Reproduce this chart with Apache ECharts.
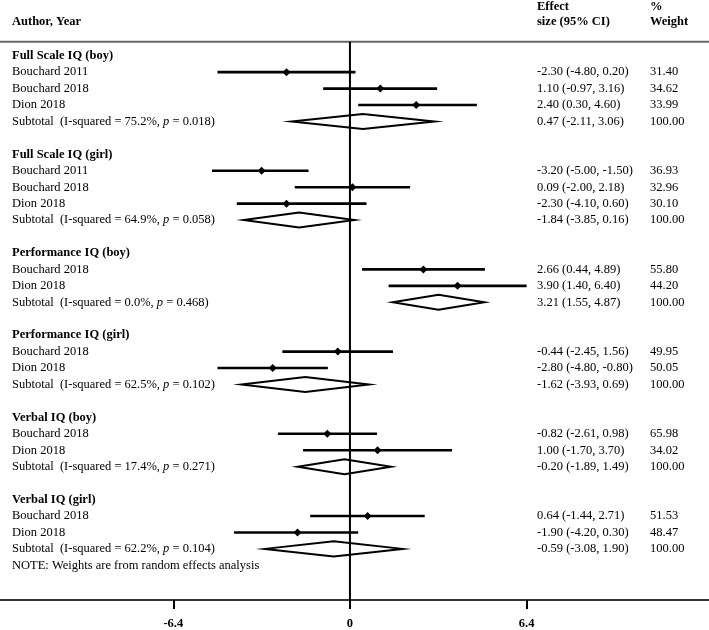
<!DOCTYPE html>
<html><head><meta charset="utf-8">
<script src="https://cdn.jsdelivr.net/npm/echarts@6/dist/echarts.min.js"></script>
<style>html,body{margin:0;padding:0;background:#fff}#c{width:709px;height:630px}</style>
</head><body><div id="c"></div>
<script>
// ---- data ----
const groups = ["Full Scale IQ (boy)", "Full Scale IQ (girl)", "Performance IQ (boy)", "Performance IQ (girl)", "Verbal IQ (boy)", "Verbal IQ (girl)"];
const studyNames = [
  ["Bouchard 2011", "Bouchard 2018", "Dion 2018"],
  ["Bouchard 2011", "Bouchard 2018", "Dion 2018"],
  ["Bouchard 2018", "Dion 2018"],
  ["Bouchard 2018", "Dion 2018"],
  ["Bouchard 2018", "Dion 2018"],
  ["Bouchard 2018", "Dion 2018"]
];
const studyEst = [[-2.30, 1.10, 2.40], [-3.20, 0.09, -2.30], [2.66, 3.90], [-0.44, -2.80], [-0.82, 1.00], [0.64, -1.90]];
const studyLo = [[-4.80, -0.97, 0.30], [-5.00, -2.00, -4.10], [0.44, 1.40], [-2.45, -4.80], [-2.61, -1.70], [-1.44, -4.20]];
const studyHi = [[0.20, 3.16, 4.60], [-1.50, 2.18, 0.60], [4.89, 6.40], [1.56, -0.80], [0.98, 3.70], [2.71, 0.30]];
const studyWeight = [[31.40, 34.62, 33.99], [36.93, 32.96, 30.10], [55.80, 44.20], [49.95, 50.05], [65.98, 34.02], [51.53, 48.47]];
const subEst = [0.47, -1.84, 3.21, -1.62, -0.20, -0.59];
const subLo = [-2.11, -3.85, 1.55, -3.93, -1.89, -3.08];
const subHi = [3.06, 0.16, 4.87, 0.69, 1.49, 1.90];
const subWeight = [100.00, 100.00, 100.00, 100.00, 100.00, 100.00];
const subI2 = ["75.2", "64.9", "0.0", "62.5", "17.4", "62.2"];
const subP = ["0.018", "0.058", "0.468", "0.102", "0.271", "0.104"];
const xTicks = [-6.4, 0, 6.4];
const noteText = "NOTE: Weights are from random effects analysis";

// ---- build rows ----
const FONT = "'Liberation Serif', 'Times New Roman', serif";
const FS = 12.5;
const fmt = v => v.toFixed(2);
const rows = [];
const ciData = [];
const diaData = [];
let r = 0;
groups.forEach((g, gi) => {
  rows.push({ row: r, label: g, bold: true });
  r++;
  studyNames[gi].forEach((n, si) => {
    const e = studyEst[gi][si], lo = studyLo[gi][si], hi = studyHi[gi][si];
    rows.push({ row: r, label: n, effect: fmt(e) + " (" + fmt(lo) + ", " + fmt(hi) + ")", weight: fmt(studyWeight[gi][si]) });
    ciData.push([lo, hi, e, r]);
    r++;
  });
  rows.push({ row: r, label: "Subtotal  (I-squared = " + subI2[gi] + "%, {i|p} = " + subP[gi] + ")",
    effect: fmt(subEst[gi]) + " (" + fmt(subLo[gi]) + ", " + fmt(subHi[gi]) + ")", weight: fmt(subWeight[gi]) });
  diaData.push([subLo[gi], subHi[gi], subEst[gi], r]);
  r += 2;
});
rows.push({ row: r - 1, label: noteText });

const X_MIN = -12.68, X_MAX = 13.01;
const Y_MIN = -3.39, Y_MAX = 33.11;
const SEP_ROW = -0.85;

const hdr = (text, x, y) => ({ type: 'text', x: x, y: y,
  style: { text: text, fontFamily: FONT, fontSize: FS, fontWeight: 'bold', fill: '#000', verticalAlign: 'middle', align: 'left' } });

const chart = echarts.init(document.getElementById('c'), null, { renderer: 'canvas' });
chart.setOption({
  animation: false,
  grid: { left: 0, right: 0, top: 0, bottom: 27 },
  xAxis: {
    type: 'value', min: X_MIN, max: X_MAX,
    splitLine: { show: false },
    axisLine: { show: true, onZero: false, lineStyle: { color: '#333', width: 2 } },
    axisTick: { show: true, customValues: xTicks, length: 9, lineStyle: { color: '#000', width: 2 } },
    axisLabel: { customValues: xTicks, margin: 17, color: '#000', fontFamily: FONT, fontSize: FS, fontWeight: 'bold',
      formatter: v => String(v) }
  },
  yAxis: { type: 'value', min: Y_MIN, max: Y_MAX, inverse: true, show: false },
  graphic: [
    hdr('Author, Year', 12, 22),
    hdr('Effect', 537, 7),
    hdr('size (95% CI)', 537, 22),
    hdr('%', 650, 7),
    hdr('Weight', 650, 22)
  ],
  series: [
    { // separator and zero line
      type: 'custom', silent: true,
      data: [[0, SEP_ROW]],
      renderItem: (params, api) => {
        const a = api.coord([X_MIN, SEP_ROW]), b = api.coord([X_MAX, SEP_ROW]);
        const z1 = api.coord([0, SEP_ROW]), z2 = api.coord([0, Y_MAX]);
        return { type: 'group', children: [
          { type: 'line', shape: { x1: a[0], y1: a[1], x2: b[0], y2: b[1] }, style: { stroke: '#666', lineWidth: 2 } },
          { type: 'line', shape: { x1: z1[0], y1: z1[1], x2: z2[0], y2: z2[1] }, style: { stroke: '#000', lineWidth: 2 } }
        ] };
      }
    },
    { // study CIs
      type: 'custom', silent: true,
      data: ciData,
      encode: { x: [0, 1, 2], y: 3 },
      renderItem: (params, api) => {
        const row = api.value(3);
        const p1 = api.coord([api.value(0), row]), p2 = api.coord([api.value(1), row]), pc = api.coord([api.value(2), row]);
        const s = 4;
        return { type: 'group', children: [
          { type: 'line', shape: { x1: p1[0], y1: p1[1], x2: p2[0], y2: p2[1] }, style: { stroke: '#000', lineWidth: 2.6 } },
          { type: 'polygon', shape: { points: [[pc[0] - s, pc[1]], [pc[0], pc[1] - s], [pc[0] + s, pc[1]], [pc[0], pc[1] + s]] }, style: { fill: '#000' } }
        ] };
      }
    },
    { // subtotal diamonds
      type: 'custom', silent: true,
      data: diaData,
      encode: { x: [0, 1, 2], y: 3 },
      renderItem: (params, api) => {
        const row = api.value(3);
        const p1 = api.coord([api.value(0), row]), p2 = api.coord([api.value(1), row]), pc = api.coord([api.value(2), row]);
        const h = 7.5;
        return { type: 'polygon', shape: { points: [[p1[0], p1[1]], [pc[0], pc[1] - h], [p2[0], p2[1]], [pc[0], pc[1] + h]] },
          style: { fill: 'rgba(255,255,255,0)', stroke: '#000', lineWidth: 2 } };
      }
    },
    { // row texts
      type: 'custom', silent: true,
      data: rows.map(o => [0, o.row]),
      encode: { x: 0, y: 1 },
      renderItem: (params, api) => {
        const o = rows[params.dataIndex];
        const y = api.coord([0, api.value(1)])[1];
        const base = { fontFamily: FONT, fontSize: FS, fill: '#000', verticalAlign: 'middle', align: 'left' };
        const ch = [
          { type: 'text', x: 12, y: y, style: Object.assign({}, base, { text: o.label, fontWeight: o.bold ? 'bold' : 'normal',
            rich: { i: { fontFamily: FONT, fontSize: FS, fontStyle: 'italic', fill: '#000' } } }) }
        ];
        if (o.effect) ch.push({ type: 'text', x: 537, y: y, style: Object.assign({}, base, { text: o.effect }) });
        if (o.weight) ch.push({ type: 'text', x: 650, y: y, style: Object.assign({}, base, { text: o.weight }) });
        return { type: 'group', children: ch };
      }
    }
  ]
});
</script>
</body></html>
